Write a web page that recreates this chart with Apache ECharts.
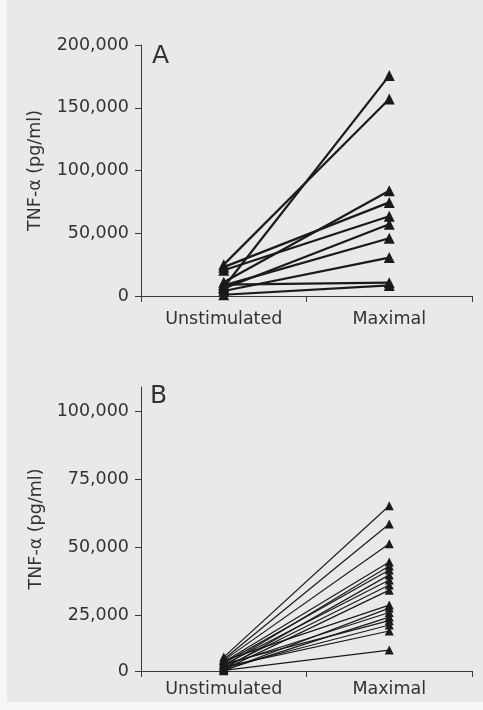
<!DOCTYPE html>
<html>
<head>
<meta charset="utf-8">
<script src="https://cdn.jsdelivr.net/npm/echarts@6/dist/echarts.min.js"></script>
<style>
html,body{margin:0;padding:0;background:#f7f7f7;}
#c{width:483px;height:710px;}
</style>
</head>
<body>
<div id="c"></div>
<script>
// ---- data ----
const categories = ['Unstimulated', 'Maximal'];
const yTitle = 'TNF-α (pg/ml)';
// Panel A
const panelAUnstim = [7000, 25000, 11000, 23000, 20500, 6000, 8500, 4000, 9000, 1000];
const panelAMax    = [175600, 157000, 83800, 74600, 63600, 57200, 46000, 30600, 10600, 8400];
const panelATicks  = [0, 50000, 100000, 150000, 200000];
// Panel B
const panelBUnstim = [9800, 9000, 8600, 8000, 6500, 7600, 5500, 7000, 6000, 5200, 8500, 4800, 6800, 5000, 7300, 5800, 6200, 4900];
const panelBMax    = [65400, 58700, 51400, 44700, 43300, 41800, 40000, 38100, 36300, 34400, 28900, 27800, 26200, 24500, 23200, 21600, 19400, 12400];
const panelBTicks  = [4700, 25000, 50000, 75000, 100000];
const panelBTickLabels = ['0', '25,000', '50,000', '75,000', '100,000'];

// ---- chart ----
const FONT = 'DejaVu Sans';
const TXT = '#333';
const AX = '#3a3a3a';
const BG = '#e8e9eb';
const fmt = v => v.toLocaleString('en-US');

function xAx(gi, margin) {
  return {
    gridIndex: gi, type: 'category', data: categories, boundaryGap: true,
    axisLine: { show: true, lineStyle: { color: AX, width: 1 } },
    axisTick: { show: true, length: 6, lineStyle: { color: AX } },
    axisLabel: { margin: margin, fontSize: 17.5, color: TXT, fontFamily: FONT },
    splitLine: { show: false }
  };
}

const series = [];
panelAUnstim.forEach((u, i) => {
  series.push({
    type: 'line', xAxisIndex: 0, yAxisIndex: 0, data: [u, panelAMax[i]],
    symbol: 'triangle', symbolSize: 11, clip: false,
    lineStyle: { color: '#1a1a1a', width: 2.2 },
    itemStyle: { color: '#1a1a1a' }, animation: false
  });
});
panelBUnstim.forEach((u, i) => {
  series.push({
    type: 'line', xAxisIndex: 1, yAxisIndex: 1, data: [u, panelBMax[i]],
    symbol: 'triangle', symbolSize: 9, clip: false,
    lineStyle: { color: '#1a1a1a', width: 1.2 },
    itemStyle: { color: '#1a1a1a' }, animation: false
  });
});

const option = {
  backgroundColor: '#f7f7f7',
  animation: false,
  grid: [
    { left: 141, top: 45, width: 331, height: 251 },
    { left: 141, top: 387, width: 331, height: 284 }
  ],
  xAxis: [xAx(0, 14), xAx(1, 9)],
  yAxis: [
    {
      gridIndex: 0, type: 'value', min: 0, max: 200000, interval: 50000,
      name: yTitle, nameLocation: 'middle', nameGap: 97,
      nameTextStyle: { fontSize: 17.5, color: TXT, fontFamily: FONT },
      axisLine: { show: true, lineStyle: { color: AX, width: 1 } },
      axisTick: { show: true, length: 6, lineStyle: { color: AX } },
      axisLabel: { margin: 12, fontSize: 17.5, color: TXT, fontFamily: FONT, formatter: fmt },
      splitLine: { show: false }
    },
    {
      gridIndex: 1, type: 'value', min: 4700, max: 109000,
      name: yTitle, nameLocation: 'middle', nameGap: 89,
      nameTextStyle: { fontSize: 17.5, color: TXT, fontFamily: FONT },
      axisLine: { show: true, lineStyle: { color: AX, width: 1 } },
      axisTick: { show: true, length: 6, lineStyle: { color: AX }, customValues: panelBTicks },
      axisLabel: { margin: 12, fontSize: 17.5, color: TXT, fontFamily: FONT, customValues: panelBTicks,
        formatter: v => { const k = panelBTicks.indexOf(v); return k >= 0 ? panelBTickLabels[k] : ''; } },
      splitLine: { show: false }
    }
  ],
  graphic: [
    { type: 'rect', z: -10, silent: true, shape: { x: 7, y: 0, width: 476, height: 702 }, style: { fill: BG } },
    { type: 'text', left: 152, top: 44, style: { text: 'A', fontSize: 25, fill: TXT, fontFamily: FONT } },
    { type: 'text', left: 150, top: 384, style: { text: 'B', fontSize: 25, fill: TXT, fontFamily: FONT } }
  ],
  series: series
};

const chart = echarts.init(document.getElementById('c'), null, { renderer: 'canvas' });
chart.setOption(option);
</script>
</body>
</html>
